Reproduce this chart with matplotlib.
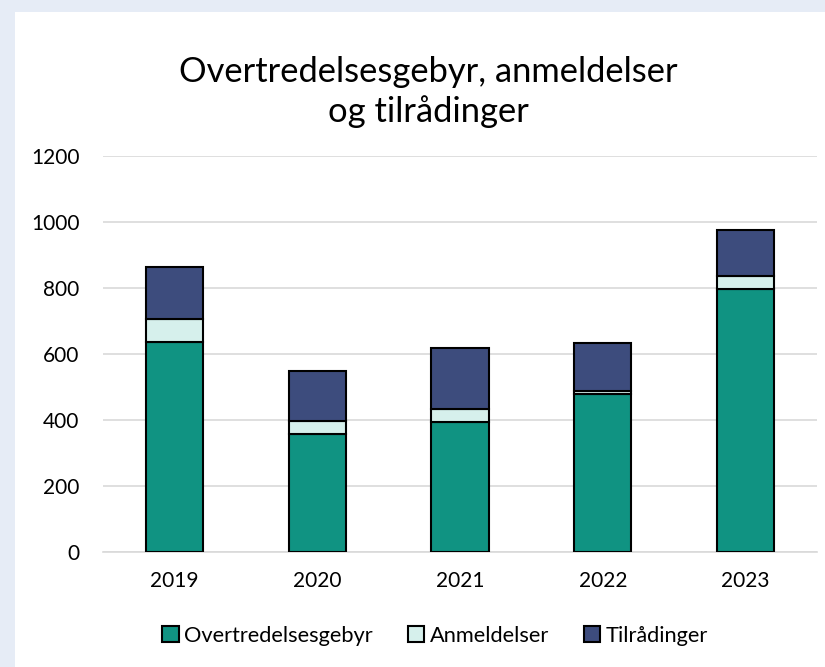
import matplotlib
matplotlib.use("Agg")
import matplotlib.pyplot as plt
import numpy as np

years = ["2019", "2020", "2021", "2022", "2023"]
overtredelsesgebyr = [635, 358, 393, 478, 797]
anmeldelser = [72, 38, 39, 11, 40]
tilradinger = [157, 154, 186, 143, 138]

plt.rcParams['font.family'] = ['Lato', 'DejaVu Sans']

fig = plt.figure(figsize=(8.25, 6.67), dpi=100)
fig.patch.set_facecolor('#E6ECF6')
# white panel
panel = plt.Rectangle((15/825, 0), 1, 1 - 12/667, transform=fig.transFigure,
                      facecolor='white', edgecolor='none', zorder=-5)
fig.patches.append(panel)

ax = fig.add_axes([103/825, 1 - 552/667, (817-103)/825, (552-156)/667])
ax.set_facecolor('none')

x = np.arange(len(years))
w = 0.4
c1, c2, c3 = '#109382', '#D6F0EC', '#3D4C7D'
b0 = np.array(overtredelsesgebyr)
b1 = b0 + np.array(anmeldelser)
ax.bar(x, overtredelsesgebyr, w, color=c1, edgecolor='black', linewidth=1.5, label='Overtredelsesgebyr', zorder=3)
ax.bar(x, anmeldelser, w, bottom=b0, color=c2, edgecolor='black', linewidth=1.5, label='Anmeldelser', zorder=3)
ax.bar(x, tilradinger, w, bottom=b1, color=c3, edgecolor='black', linewidth=1.5, label='Tilrådinger', zorder=3)

ax.set_xlim(-0.5, 4.5)
ax.set_ylim(0, 1200)
ax.set_yticks(range(0, 1201, 200))
ax.set_xticks(x)
ax.set_xticklabels(years)
ax.yaxis.grid(True, color='#D9D9D9', linewidth=1.2, zorder=0)
ax.set_axisbelow(True)
for s in ['top', 'right', 'left']:
    ax.spines[s].set_visible(False)
ax.spines['bottom'].set_color('#D9D9D9')
ax.spines['bottom'].set_linewidth(1.2)
ax.tick_params(axis='both', length=0, labelsize=15, colors='black')
ax.tick_params(axis='y', pad=17)
ax.tick_params(axis='x', pad=14)

fig.text(428/825, 1 - 92/667, "Overtredelsesgebyr, anmeldelser\nog tilrådinger",
         ha='center', va='center', fontsize=24.8, linespacing=1.25)

leg = fig.legend(loc='center', bbox_to_anchor=(435/825, 1 - 636/667), ncol=3,
                 frameon=False, fontsize=15.7, handlelength=0.75, handleheight=0.75,
                 handletextpad=0.25, columnspacing=1.6)

fig.savefig('out.png', dpi=100)
